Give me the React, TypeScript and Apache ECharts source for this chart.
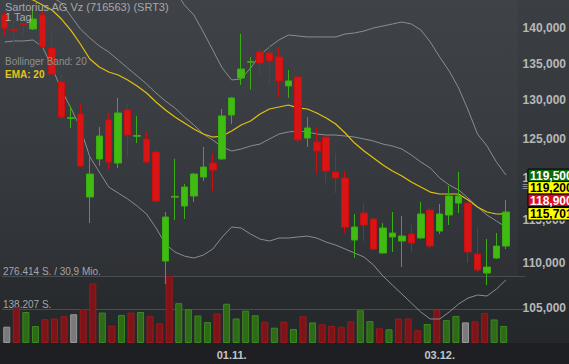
import React, { useEffect, useRef } from 'react';
import * as echarts from 'echarts';

const TITLE = 'Sartorius AG Vz (716563) (SRT3)';
const PERIOD = '1 Tag';
const BB_LABEL = 'Bollinger Band: 20';
const EMA_LABEL = 'EMA: 20';
const VOL_TURNOVER = '30,9 Mio.';

const START_DATE = '2018-09-28';

const opens = [141.93, 139.85, 140.70, 139.90, 141.93, 137.19, 132.49, 127.62, 128.20, 117.72, 122.41, 127.41, 121.90, 128.73, 125.30, 124.95, 123.29, 110.22, 117.70, 116.63, 117.84, 120.16, 121.90, 122.41, 128.07, 133.03, 135.20, 136.63, 136.49, 135.93, 131.95, 133.17, 125.07, 124.56, 125.20, 120.78, 120.04, 112.63, 115.80, 115.09, 111.13, 112.98, 112.51, 113.32, 112.86, 116.16, 113.67, 115.56, 116.99, 116.99, 111.02, 108.87, 110.56, 111.93];
const closes = [140.04, 139.70, 140.55, 141.34, 137.34, 133.58, 127.81, 127.72, 121.53, 120.53, 125.33, 122.03, 128.33, 125.46, 125.40, 122.03, 117.23, 115.32, 117.80, 118.93, 120.53, 121.40, 121.03, 127.94, 130.33, 134.26, 135.30, 135.10, 135.37, 132.63, 132.63, 124.82, 126.37, 123.42, 120.91, 120.04, 114.14, 114.14, 114.38, 111.59, 114.03, 113.44, 113.09, 112.28, 115.68, 111.93, 115.68, 117.84, 117.84, 111.25, 109.21, 109.54, 111.93, 115.92];
const lows = [139.04, 137.34, 139.04, 139.76, 137.27, 133.44, 127.54, 126.37, 121.40, 114.61, 121.53, 121.15, 121.28, 122.66, 124.43, 121.97, 117.11, 107.64, 114.97, 115.09, 117.11, 119.67, 118.45, 122.28, 126.89, 132.08, 131.47, 133.44, 132.08, 130.46, 130.33, 124.43, 123.93, 120.66, 119.42, 118.20, 113.44, 110.56, 112.51, 111.48, 111.08, 111.25, 109.54, 111.25, 112.80, 111.59, 113.32, 114.38, 115.80, 110.00, 108.98, 107.53, 110.45, 111.59];
const highs = [142.37, 141.20, 141.49, 142.80, 142.66, 139.47, 133.58, 129.26, 129.52, 122.66, 126.50, 128.33, 130.33, 129.66, 127.94, 125.98, 123.54, 115.92, 122.41, 119.30, 120.66, 123.93, 123.04, 128.86, 130.46, 139.18, 135.93, 137.19, 137.62, 137.19, 134.13, 133.31, 127.81, 126.37, 125.27, 123.16, 120.91, 115.68, 116.99, 115.20, 114.61, 115.92, 115.44, 114.38, 117.11, 116.51, 116.87, 119.06, 120.78, 117.11, 114.14, 112.74, 113.44, 117.36];

const ema20 = [145.62, 145.17, 144.72, 144.13, 143.39, 142.66, 141.34, 139.69, 137.76, 135.65, 134.54, 133.85, 133.44, 132.76, 131.95, 130.99, 129.79, 128.73, 127.81, 127.02, 126.24, 125.59, 125.20, 125.33, 125.98, 126.76, 127.28, 128.20, 128.86, 129.12, 129.39, 129.00, 128.86, 128.33, 127.67, 126.89, 125.72, 124.43, 123.42, 122.53, 121.66, 120.91, 120.29, 119.55, 118.93, 118.32, 118.08, 118.08, 118.08, 117.36, 116.51, 115.92, 115.68, 115.701];
const bbMiddle = [153.29, 151.73, 149.87, 148.03, 146.22, 144.58, 143.69, 141.78, 139.90, 138.61, 137.48, 136.63, 135.51, 134.40, 133.31, 132.21, 130.99, 129.92, 128.99, 127.81, 126.76, 125.59, 124.82, 123.93, 123.42, 123.67, 124.05, 124.30, 124.95, 125.59, 125.85, 125.98, 125.85, 125.59, 125.46, 125.46, 125.33, 125.20, 124.95, 124.69, 124.30, 124.05, 123.67, 122.91, 122.03, 121.28, 120.04, 119.18, 118.57, 117.60, 116.51, 115.56, 114.85, 114.14];
const bbUpper = [168.5, 165.3, 161.6, 157.7, 155.1, 154.6, 156.0, 154.6, 153.4, 154.6, 154.2, 154.3, 152.8, 151.3, 150.0, 148.7, 147.9, 147.0, 145.6, 143.39, 141.93, 139.47, 136.91, 134.40, 132.76, 132.90, 134.40, 136.21, 137.34, 138.33, 139.04, 138.90, 138.76, 138.76, 138.76, 138.76, 139.18, 139.33, 139.61, 140.04, 140.33, 140.62, 140.91, 140.62, 139.76, 138.05, 135.93, 133.99, 131.68, 128.73, 125.59, 124.05, 122.03, 120.41];
const bbLower = [138.05, 138.19, 138.19, 138.33, 137.34, 134.54, 131.40, 128.99, 126.37, 122.66, 120.78, 118.93, 118.20, 117.48, 116.63, 115.68, 114.03, 112.16, 111.25, 110.79, 110.56, 110.90, 111.59, 112.98, 114.14, 114.03, 113.32, 112.74, 112.51, 112.86, 112.86, 112.98, 113.09, 112.86, 112.39, 112.05, 111.59, 111.13, 110.68, 109.77, 108.54, 107.53, 106.55, 105.57, 104.60, 103.85, 103.85, 104.60, 105.46, 106.11, 106.44, 106.33, 107.10, 108.10];

const volumes = [67180, 148120, 127890, 70010, 98340, 101180, 110480, 118580, 140030, 245250, 125460, 71230, 115740, 125460, 127890, 110480, 80940, 276414, 164310, 138810, 113320, 86200, 121410, 161880, 101180, 133550, 114530, 87420, 63130, 87420, 57870, 110480, 84990, 76890, 70010, 67180, 89030, 134770, 90250, 60700, 56660, 101180, 101180, 52610, 78110, 137600, 94300, 111700, 84990, 89030, 123840, 97130, 70010];
const volumeDir = ['n', 'd', 'u', 'u', 'd', 'd', 'd', 'n', 'd', 'd', 'u', 'd', 'u', 'd', 'u', 'd', 'd', 'd', 'u', 'u', 'u', 'u', 'd', 'u', 'u', 'u', 'u', 'd', 'u', 'd', 'u', 'd', 'u', 'd', 'd', 'd', 'd', 'u', 'u', 'd', 'u', 'd', 'd', 'd', 'u', 'd', 'u', 'u', 'n', 'd', 'd', 'u', 'u'];
const VOL_MAX = 276414;

const PRICE_TICKS = [105, 110, 115, 120, 125, 130, 135, 140];
const PRICE_MIN = 101.32;
const PRICE_MAX = 144.13;

const TAG_VALUES = [119.5, 119.2, 118.9, 115.701];
const TAG_BG = ['#0b680b', '#ffff00', '#dc0a1e', '#ffff00'];
const TAG_FG = ['#ffffff', '#000000', '#ffffff', '#000000'];

const FONT = '"Liberation Sans", Arial, sans-serif';
const W = 569;
const H = 364;
const GRID_RIGHT = 51;
const VOL_GRID_RIGHT = 44;
const GRID_BOTTOM = 21;
const VOL_GRID_TOP = 276;

function tradingDays(start: string, n: number): Date[] {
  const out: Date[] = [];
  const d = new Date(start + 'T12:00:00');
  while (out.length < n) {
    const wd = d.getDay();
    if (wd !== 0 && wd !== 6) out.push(new Date(d.getTime()));
    d.setDate(d.getDate() + 1);
  }
  return out;
}

const pad = (n: number) => (n < 10 ? '0' + n : '' + n);
const fmtPrice = (v: number) => v.toFixed(3).replace('.', ',');
const fmtInt = (v: number) => Math.round(v).toString().replace(/\B(?=(\d{3})+(?!\d))/g, '.');

export default function App() {
  const ref = useRef<HTMLDivElement>(null);

  useEffect(() => {
    if (!ref.current) return;
    const chart = echarts.init(ref.current, undefined, { renderer: 'svg', width: W, height: H });
    const n = opens.length;
    const dates = tradingDays(START_DATE, n);
    const cats = dates.map((d) => pad(d.getDate()) + '.' + pad(d.getMonth() + 1) + '.');
    const monthStart = dates.map((d, i) => i > 0 && d.getMonth() !== dates[i - 1].getMonth());

    const plotW = W - GRID_RIGHT;
    const band = plotW / n;
    const volXMax = -0.5 + (W - VOL_GRID_RIGHT) / band;

    const volColor = { u: '#2e6a17', d: '#7e1417', n: '#7a7a7a' } as Record<string, string>;
    const volBorder = { u: '#3a8a1e', d: '#9a1a1e', n: '#9a9a9a' } as Record<string, string>;

    const lineSeries = (name: string, data: number[], color: string, width: number) => ({
      name,
      type: 'line',
      xAxisIndex: 0,
      yAxisIndex: 0,
      data,
      symbol: 'none',
      smooth: false,
      lineStyle: { color, width },
      z: 4,
      silent: true,
    });

    const option: any = {
      animation: false,
      backgroundColor: 'transparent',
      grid: [
        { left: 0, right: GRID_RIGHT, top: 0, bottom: GRID_BOTTOM },
        { left: 0, right: VOL_GRID_RIGHT, top: VOL_GRID_TOP, bottom: GRID_BOTTOM },
      ],
      xAxis: [
        {
          type: 'category',
          gridIndex: 0,
          data: cats,
          boundaryGap: true,
          axisLine: { show: false },
          axisTick: { show: false },
          splitLine: { show: false },
          axisLabel: {
            interval: (i: number) => monthStart[i] && i * band > 20,
            color: '#c4c6c8',
            fontSize: 11,
            fontWeight: 'bold',
            fontFamily: FONT,
            margin: 6,
          },
        },
        { type: 'value', gridIndex: 1, min: -0.5, max: volXMax, show: false },
      ],
      yAxis: [
        {
          type: 'log',
          gridIndex: 0,
          position: 'right',
          min: PRICE_MIN,
          max: PRICE_MAX,
          axisLine: { show: false },
          axisTick: { show: false },
          splitLine: { show: false },
          axisLabel: {
            customValues: PRICE_TICKS,
            formatter: (v: number) => fmtPrice(v),
            color: '#b6b8ba',
            fontSize: 12,
            fontWeight: 'bold',
            fontFamily: FONT,
            margin: 12,
          },
        },
        {
          type: 'value',
          gridIndex: 1,
          position: 'left',
          min: 0,
          max: VOL_MAX,
          interval: VOL_MAX / 2,
          axisLine: { show: false },
          axisTick: { show: false },
          splitLine: { show: true, showMinLine: false, lineStyle: { color: '#4a4d50', width: 1 } },
          axisLabel: {
            inside: true,
            margin: 1,
            verticalAlign: 'bottom',
            showMinLabel: false,
            showMaxLabel: true,
            color: '#a4a6a8',
            fontSize: 10,
            fontFamily: FONT,
            formatter: (v: number) => {
              if (v <= 0) return '';
              if (Math.abs(v - VOL_MAX) < 1) return fmtInt(v) + ' S. / ' + VOL_TURNOVER;
              return fmtInt(v) + ' S.';
            },
          },
        },
      ],
      series: [
        {
          name: 'Volumen',
          type: 'bar',
          xAxisIndex: 1,
          yAxisIndex: 1,
          barWidth: 7,
          z: 1,
          data: volumes.map((v, i) => ({
            value: [i, v],
            itemStyle: { color: volColor[volumeDir[i]], borderColor: volBorder[volumeDir[i]], borderWidth: 1 },
          })),
        },
        lineSeries('BB oben', bbUpper, '#8a8d90', 1),
        lineSeries('BB mitte', bbMiddle, '#8a8d90', 1),
        lineSeries('BB unten', bbLower, '#8a8d90', 1),
        lineSeries('EMA 20', ema20, '#e4c20e', 1.2),
        {
          name: 'Kurs',
          type: 'candlestick',
          xAxisIndex: 0,
          yAxisIndex: 0,
          barWidth: 7,
          z: 5,
          data: opens.map((o, i) => [o, closes[i], lows[i], highs[i]]),
          itemStyle: {
            color: '#3fbb12',
            color0: '#d81414',
            borderColor: '#3aae10',
            borderColor0: '#c81010',
            borderWidth: 1,
          },
        },
      ],
      graphic: [
        { type: 'rect', z: -10, silent: true, shape: { x: 0, y: 0, width: plotW, height: VOL_GRID_TOP }, style: { fill: 'rgba(255,255,255,0.025)' } },
        { type: 'rect', z: -10, silent: true, shape: { x: 0, y: H - GRID_BOTTOM, width: W, height: GRID_BOTTOM }, style: { fill: '#1d1f22' } },
        { type: 'text', z: 20, x: 5, y: 7, style: { text: TITLE, fill: '#a6a8aa', font: '11px ' + FONT, textVerticalAlign: 'middle' } },
        { type: 'text', z: 20, x: 5, y: 17, style: { text: PERIOD, fill: '#a6a8aa', font: '11px ' + FONT, textVerticalAlign: 'middle' } },
        { type: 'text', z: 20, x: 5, y: 61, style: { text: BB_LABEL, fill: '#8e9092', font: '10px ' + FONT, textVerticalAlign: 'middle' } },
        { type: 'text', z: 20, x: 5, y: 74, style: { text: EMA_LABEL, fill: '#e6c417', font: 'bold 10px ' + FONT, textVerticalAlign: 'middle' } },
      ],
    };
    chart.setOption(option);

    // price tags on the right axis, positioned by the y scale, stacked if they overlap
    const ys = TAG_VALUES.map((v) => chart.convertToPixel({ yAxisIndex: 0 } as any, v) as number);
    const tagH = 12.5;
    const order = ys.map((y, i) => i).sort((a, b) => ys[a] - ys[b]);
    const placed: number[] = ys.slice();
    let gi = 0;
    while (gi < order.length) {
      let gj = gi;
      while (gj + 1 < order.length && ys[order[gj + 1]] - ys[order[gj]] < tagH) gj++;
      const cnt = gj - gi + 1;
      if (cnt > 1) {
        let mean = 0;
        for (let k = gi; k <= gj; k++) mean += ys[order[k]];
        mean /= cnt;
        for (let k = gi; k <= gj; k++) placed[order[k]] = mean + 3 + (k - gi - (cnt - 1) / 2) * tagH;
      }
      gi = gj + 1;
    }
    const tagX = plotW + 10;
    const tagEls: any[] = [];
    TAG_VALUES.forEach((v, i) => {
      const cy = placed[i];
      tagEls.push({
        type: 'rect', z: 30, silent: true,
        shape: { x: tagX, y: cy - tagH / 2, width: W - tagX + 2, height: tagH },
        style: { fill: TAG_BG[i], stroke: '#000000', lineWidth: 1 },
      });
      tagEls.push({
        type: 'text', z: 31, silent: true, x: tagX + 2, y: cy + 0.5,
        style: { text: fmtPrice(v), fill: TAG_FG[i], font: 'bold 12px ' + FONT, textVerticalAlign: 'middle' },
      });
    });
    tagEls.push({
      type: 'text', z: 31, silent: true, x: plotW + 4, y: (placed[0] + placed[1]) / 2 + 4,
      style: { text: '≡', fill: '#9a9c9e', font: '11px ' + FONT, textVerticalAlign: 'middle' },
    });
    chart.setOption({ graphic: (option.graphic as any[]).concat(tagEls) });

    return () => chart.dispose();
  }, []);

  return (
    <div
      style={{
        position: 'fixed',
        left: 0,
        top: 0,
        width: W,
        height: H,
        background: 'linear-gradient(180deg, #3b3f43 0%, #35393d 35%, #2d3034 65%, #26292c 88%, #24272a 100%)',
      }}
    >
      <div ref={ref} style={{ width: W, height: H }} />
    </div>
  );
}
